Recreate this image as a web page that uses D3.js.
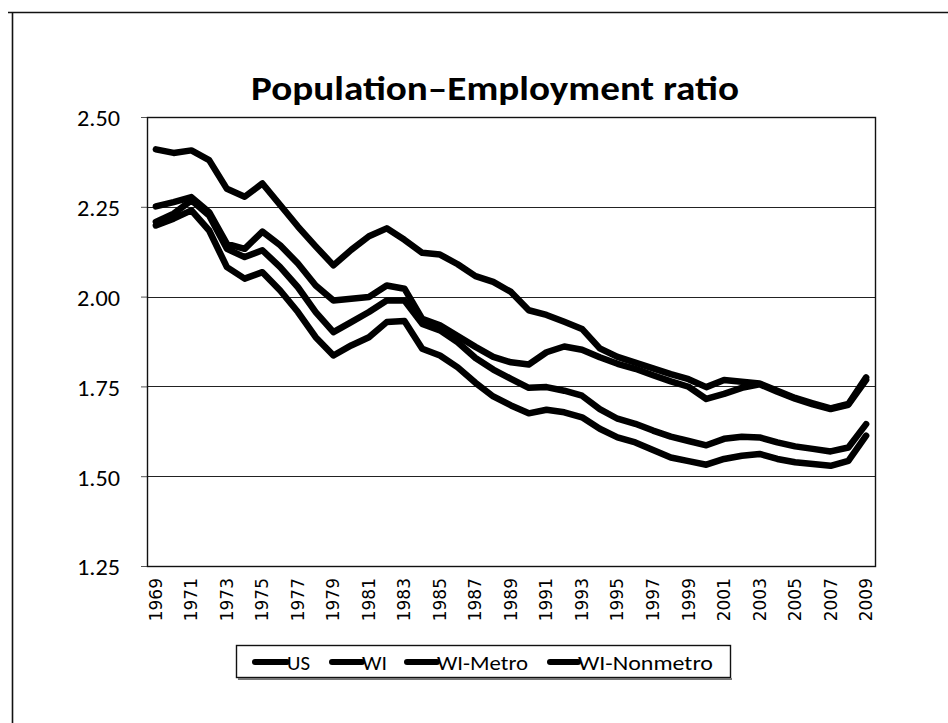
<!DOCTYPE html>
<html>
<head>
<meta charset="utf-8">
<script src="https://cdn.jsdelivr.net/npm/d3@7/dist/d3.min.js"></script>
<style>
  html, body { margin: 0; padding: 0; background: #fff; }
  svg { display: block; }
</style>
</head>
<body>
<svg id="chart" width="948" height="723"></svg>
<script>
// Population-to-employment ratio, 1969-2009
const years = d3.range(1969, 2010);
const yTicks = [1.25, 1.50, 1.75, 2.00, 2.25, 2.50];
const seriesNames = ["US", "WI", "WI-Metro", "WI-Nonmetro"];

const us = [2.251, 2.263, 2.277, 2.235, 2.147, 2.133, 2.181, 2.143, 2.092, 2.031,
  1.989, 1.994, 1.999, 2.031, 2.022, 1.938, 1.920, 1.890, 1.860, 1.832,
  1.817, 1.811, 1.845, 1.861, 1.852, 1.831, 1.813, 1.799, 1.781, 1.764,
  1.749, 1.715, 1.729, 1.746, 1.756, 1.735, 1.716, 1.700, 1.687, 1.699, 1.768];
const wi = [2.208, 2.231, 2.268, 2.226, 2.133, 2.110, 2.129, 2.082, 2.026, 1.957,
  1.901, 1.929, 1.957, 1.989, 1.989, 1.924, 1.906, 1.873, 1.829, 1.797,
  1.771, 1.746, 1.748, 1.738, 1.724, 1.687, 1.660, 1.646, 1.627, 1.610,
  1.598, 1.586, 1.604, 1.610, 1.608, 1.594, 1.583, 1.576, 1.569, 1.580, 1.645];
const wiMetro = [2.198, 2.217, 2.240, 2.184, 2.082, 2.050, 2.068, 2.017, 1.957, 1.887,
  1.836, 1.864, 1.887, 1.929, 1.932, 1.855, 1.836, 1.803, 1.760, 1.722,
  1.697, 1.675, 1.685, 1.678, 1.664, 1.632, 1.608, 1.594, 1.573, 1.552,
  1.542, 1.532, 1.548, 1.557, 1.562, 1.548, 1.539, 1.534, 1.529, 1.543, 1.613];
const wiNonmetro = [2.410, 2.400, 2.407, 2.380, 2.300, 2.278, 2.315, 2.255, 2.195, 2.140,
  2.087, 2.130, 2.168, 2.190, 2.158, 2.122, 2.117, 2.090, 2.057, 2.041,
  2.013, 1.962, 1.949, 1.930, 1.910, 1.856, 1.832, 1.816, 1.800, 1.784,
  1.770, 1.748, 1.768, 1.763, 1.758, 1.738, 1.718, 1.703, 1.689, 1.701, 1.775];

const seriesValues = [us, wi, wiMetro, wiNonmetro];

const svg = d3.select("#chart");
const W = 948, H = 723;
const plot = { left: 147, right: 875, top: 117, bottom: 566 };
const font = "Carlito, Calibri, Lato, sans-serif";

svg.append("rect").attr("width", W).attr("height", H).attr("fill", "#fff");

// frame around the chart object
svg.append("path")
  .attr("d", `M8,12.5H${W}M12.5,12.5V${H}`)
  .attr("stroke", "#111").attr("stroke-width", 1.6).attr("fill", "none");

const x = d3.scaleBand().domain(years).range([plot.left, plot.right]).paddingInner(0).paddingOuter(0);
const y = d3.scaleLinear().domain([1.25, 2.5]).range([plot.bottom, plot.top]);
const cx = d => x(d) + x.bandwidth() / 2;

// title
svg.append("text")
  .attr("x", 495).attr("y", 100)
  .attr("text-anchor", "middle")
  .attr("font-family", font)
  .attr("font-weight", "bold")
  .attr("font-size", 34)
  .attr("textLength", 488)
  .attr("lengthAdjust", "spacingAndGlyphs")
  .attr("fill", "#000")
  .text("Population\u2013Employment ratio");

// horizontal gridlines
svg.append("g")
  .selectAll("line")
  .data(yTicks)
  .join("line")
  .attr("x1", plot.left).attr("x2", plot.right)
  .attr("y1", d => Math.round(y(d)) + 0.5).attr("y2", d => Math.round(y(d)) + 0.5)
  .attr("stroke", "#222").attr("stroke-width", 1.2);

// y axis
const yAxis = d3.axisLeft(y).tickValues(yTicks).tickFormat(d3.format(".2f")).tickSize(6).tickPadding(21);
const gy = svg.append("g").attr("transform", `translate(${plot.left},0)`).call(yAxis);
gy.select(".domain").remove();
gy.selectAll(".tick line").attr("stroke", "#555");
gy.selectAll(".tick text")
  .attr("font-family", font)
  .attr("font-size", 22)
  .attr("textLength", 43)
  .attr("lengthAdjust", "spacingAndGlyphs")
  .attr("fill", "#000")
  .attr("dy", "0.4em");

// plot-area border
svg.append("rect")
  .attr("x", plot.left + 0.5).attr("y", plot.top + 0.5)
  .attr("width", plot.right - plot.left).attr("height", plot.bottom - plot.top)
  .attr("fill", "none").attr("stroke", "#111").attr("stroke-width", 1.4);

// x axis labels (every other year, rotated)
const xAxis = d3.axisBottom(x)
  .tickValues(years.filter((d, i) => i % 2 === 0))
  .tickSize(0).tickPadding(0);
const gx = svg.append("g").attr("transform", `translate(0,${plot.bottom})`).call(xAxis);
gx.select(".domain").remove();
gx.selectAll(".tick text")
  .attr("font-family", "DejaVu Sans, sans-serif")
  .attr("font-size", 17)
  .attr("fill", "#000")
  .attr("text-anchor", "end")
  .attr("transform", "rotate(-90)")
  .attr("x", -12).attr("y", 0).attr("dy", "0.35em");

// series lines
const line = d3.line()
  .x((d, i) => cx(years[i]))
  .y(d => y(d));

svg.append("g")
  .selectAll("path")
  .data(seriesValues)
  .join("path")
  .attr("d", d => line(d))
  .attr("fill", "none")
  .attr("stroke", "#000")
  .attr("stroke-width", 6.5)
  .attr("stroke-linejoin", "round")
  .attr("stroke-linecap", "round");

// legend
const legend = svg.append("g");
legend.append("rect")
  .attr("x", 236.5).attr("y", 645.5).attr("width", 494).attr("height", 32)
  .attr("fill", "#fff").attr("stroke", "#111").attr("stroke-width", 1.4);
legend.append("line")
  .attr("x1", 238).attr("x2", 732).attr("y1", 679).attr("y2", 679)
  .attr("stroke", "#777").attr("stroke-width", 2);

const legendX = [253, 330, 405, 548];
const legendSwatch = [34, 32, 32, 30];
const legendTextW = [23, 25, 91, 135];
const item = legend.selectAll("g.item")
  .data(seriesNames)
  .join("g")
  .attr("class", "item")
  .attr("transform", (d, i) => `translate(${legendX[i]},662)`);
item.append("line")
  .attr("x1", 2).attr("x2", (d, i) => legendSwatch[i])
  .attr("stroke", "#000").attr("stroke-width", 6).attr("stroke-linecap", "round");
item.append("text")
  .attr("x", (d, i) => legendSwatch[i]).attr("dy", "0.36em")
  .attr("font-family", font)
  .attr("font-size", 21)
  .attr("textLength", (d, i) => legendTextW[i])
  .attr("lengthAdjust", "spacingAndGlyphs")
  .attr("fill", "#000")
  .text(d => d);
</script>
</body>
</html>
